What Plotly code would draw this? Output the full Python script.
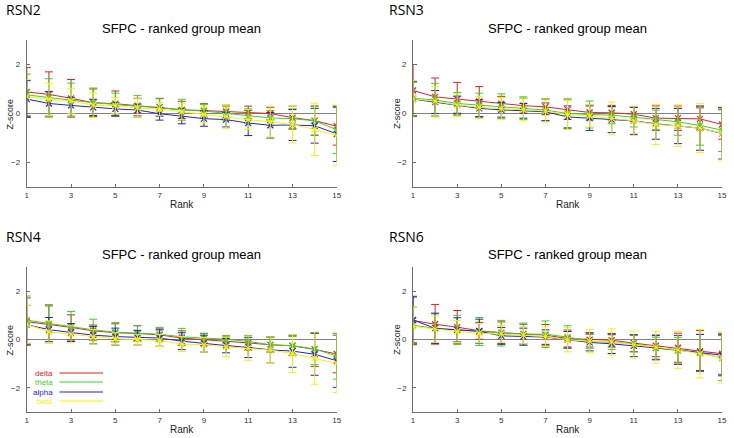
"""
SFPC ranked group mean, four RSN panels (delta/theta/alpha/beta z-scores by rank).
"""

import plotly.graph_objects as go

W, H = 734, 438

ranks = list(range(1, 16))
rank_ticks = [1, 3, 5, 7, 9, 11, 13, 15]
z_ticks = [-2, 0, 2]
bands = ['delta', 'theta', 'alpha', 'beta']
band_colors = {
    'delta': 'rgb(220,35,35)',
    'theta': 'rgb(60,210,40)',
    'alpha': 'rgb(35,35,200)',
    'beta': 'rgb(245,240,20)',
}
panel_names = ['RSN2', 'RSN3', 'RSN4', 'RSN6']
subtitle = 'SFPC - ranked group mean'

# RSN2
rsn2_delta = [0.88, 0.78, 0.62, 0.44, 0.40, 0.32, 0.26, 0.15, 0.12, 0.08, 0.04, 0.00, -0.17, -0.29, -0.52]
rsn2_delta_err = [1.00, 0.92, 0.77, 0.56, 0.52, 0.30, 0.36, 0.35, 0.28, 0.27, 0.26, 0.25, 0.47, 0.60, 0.77]
rsn2_theta = [0.76, 0.65, 0.57, 0.44, 0.37, 0.29, 0.25, 0.15, 0.10, 0.00, -0.11, -0.18, -0.21, -0.30, -0.66]
rsn2_theta_err = [0.85, 0.77, 0.67, 0.60, 0.46, 0.44, 0.35, 0.43, 0.27, 0.28, 0.30, 0.30, 0.40, 0.58, 0.97]
rsn2_alpha = [0.59, 0.41, 0.33, 0.25, 0.19, 0.14, -0.01, -0.11, -0.21, -0.25, -0.39, -0.48, -0.47, -0.50, -0.83]
rsn2_alpha_err = [0.75, 0.49, 0.33, 0.33, 0.26, 0.24, 0.26, 0.31, 0.31, 0.30, 0.51, 0.52, 0.63, 0.71, 1.13]
rsn2_beta = [0.69, 0.58, 0.51, 0.34, 0.32, 0.23, 0.18, 0.07, -0.04, -0.12, -0.25, -0.34, -0.45, -0.65, -0.90]
rsn2_beta_err = [0.70, 0.66, 0.52, 0.50, 0.33, 0.37, 0.27, 0.33, 0.34, 0.48, 0.40, 0.62, 0.75, 1.07, 1.24]

# RSN3
rsn3_delta = [0.94, 0.68, 0.59, 0.49, 0.40, 0.32, 0.27, 0.16, 0.04, 0.03, -0.03, -0.19, -0.19, -0.22, -0.45]
rsn3_delta_err = [1.06, 0.77, 0.68, 0.61, 0.30, 0.30, 0.32, 0.40, 0.30, 0.30, 0.30, 0.50, 0.50, 0.45, 0.60]
rsn3_theta = [0.62, 0.55, 0.41, 0.34, 0.30, 0.22, 0.14, 0.00, -0.04, -0.07, -0.15, -0.26, -0.34, -0.49, -0.68]
rsn3_theta_err = [0.70, 0.68, 0.45, 0.49, 0.50, 0.46, 0.45, 0.60, 0.55, 0.35, 0.40, 0.40, 0.55, 0.80, 0.87]
rsn3_alpha = [0.59, 0.47, 0.36, 0.21, 0.15, 0.11, 0.07, -0.14, -0.19, -0.25, -0.30, -0.42, -0.51, -0.60, -0.81]
rsn3_alpha_err = [0.70, 0.47, 0.35, 0.35, 0.30, 0.30, 0.36, 0.45, 0.50, 0.53, 0.55, 0.63, 0.72, 0.90, 1.05]
rsn3_beta = [0.60, 0.50, 0.35, 0.25, 0.20, 0.15, 0.10, -0.05, -0.10, -0.20, -0.30, -0.45, -0.50, -0.60, -0.80]
rsn3_beta_err = [0.75, 0.60, 0.45, 0.45, 0.45, 0.45, 0.45, 0.60, 0.45, 0.67, 0.60, 0.82, 0.85, 1.00, 1.10]

# RSN4
rsn4_delta = [0.74, 0.63, 0.50, 0.36, 0.28, 0.25, 0.19, 0.06, 0.00, -0.06, -0.14, -0.22, -0.26, -0.41, -0.60]
rsn4_delta_err = [0.98, 0.76, 0.52, 0.24, 0.37, 0.32, 0.25, 0.30, 0.25, 0.20, 0.30, 0.30, 0.40, 0.70, 0.78]
rsn4_theta = [0.80, 0.66, 0.54, 0.40, 0.30, 0.26, 0.22, 0.11, 0.06, 0.01, -0.08, -0.22, -0.26, -0.39, -0.69]
rsn4_theta_err = [1.00, 0.79, 0.62, 0.44, 0.40, 0.31, 0.28, 0.35, 0.20, 0.15, 0.25, 0.30, 0.40, 0.65, 0.95]
rsn4_alpha = [0.61, 0.41, 0.29, 0.18, 0.12, 0.08, 0.06, -0.07, -0.17, -0.25, -0.33, -0.43, -0.48, -0.61, -0.88]
rsn4_alpha_err = [0.80, 0.50, 0.37, 0.36, 0.35, 0.30, 0.34, 0.35, 0.35, 0.30, 0.42, 0.55, 0.67, 0.87, 1.10]
rsn4_beta = [0.63, 0.32, 0.22, 0.11, 0.03, 0.00, -0.04, -0.19, -0.22, -0.30, -0.36, -0.44, -0.58, -0.77, -0.99]
rsn4_beta_err = [0.78, 0.45, 0.35, 0.30, 0.25, 0.20, 0.25, 0.31, 0.30, 0.40, 0.50, 0.55, 0.78, 1.08, 1.20]

# RSN6
rsn6_delta = [0.79, 0.63, 0.51, 0.36, 0.28, 0.23, 0.18, 0.04, -0.01, -0.03, -0.15, -0.26, -0.34, -0.48, -0.59]
rsn6_delta_err = [1.00, 0.82, 0.69, 0.35, 0.45, 0.40, 0.44, 0.35, 0.30, 0.28, 0.35, 0.45, 0.60, 0.85, 0.85]
rsn6_theta = [0.59, 0.46, 0.40, 0.33, 0.26, 0.22, 0.22, 0.10, -0.07, -0.11, -0.17, -0.36, -0.46, -0.54, -0.77]
rsn6_theta_err = [0.75, 0.60, 0.60, 0.58, 0.53, 0.46, 0.55, 0.47, 0.30, 0.30, 0.35, 0.45, 0.55, 0.75, 0.93]
rsn6_alpha = [0.81, 0.46, 0.40, 0.34, 0.15, 0.12, 0.10, -0.01, -0.12, -0.18, -0.26, -0.34, -0.43, -0.54, -0.65]
rsn6_alpha_err = [0.95, 0.63, 0.50, 0.50, 0.35, 0.35, 0.30, 0.34, 0.35, 0.40, 0.45, 0.50, 0.60, 0.75, 0.85]
rsn6_beta = [0.54, 0.43, 0.33, 0.26, 0.23, 0.18, 0.12, -0.01, -0.07, -0.10, -0.21, -0.32, -0.43, -0.59, -0.74]
rsn6_beta_err = [0.80, 0.55, 0.45, 0.40, 0.35, 0.35, 0.40, 0.50, 0.48, 0.54, 0.56, 0.66, 0.76, 1.00, 1.06]

panel_data = {
    'RSN2': [(rsn2_delta, rsn2_delta_err), (rsn2_theta, rsn2_theta_err),
             (rsn2_alpha, rsn2_alpha_err), (rsn2_beta, rsn2_beta_err)],
    'RSN3': [(rsn3_delta, rsn3_delta_err), (rsn3_theta, rsn3_theta_err),
             (rsn3_alpha, rsn3_alpha_err), (rsn3_beta, rsn3_beta_err)],
    'RSN4': [(rsn4_delta, rsn4_delta_err), (rsn4_theta, rsn4_theta_err),
             (rsn4_alpha, rsn4_alpha_err), (rsn4_beta, rsn4_beta_err)],
    'RSN6': [(rsn6_delta, rsn6_delta_err), (rsn6_theta, rsn6_theta_err),
             (rsn6_alpha, rsn6_alpha_err), (rsn6_beta, rsn6_beta_err)],
}


def px(x):
    return x / W


def py(y):
    return 1 - y / H


# pixel boxes of the four axes: (left, right, top, bottom)
boxes = [(25, 338, 40, 187), (415, 727, 40, 187),
         (25, 338, 267, 412), (415, 727, 267, 412)]

AXIS_GRAY = 'rgb(110,110,110)'
FONT = 'Liberation Sans, Arial, sans-serif'

fig = go.Figure()
annotations = []
shapes = []

for i, name in enumerate(panel_names):
    n = '' if i == 0 else str(i + 1)
    left, right, top, bottom = boxes[i]
    for band, (vals, errs) in zip(bands, panel_data[name]):
        c = band_colors[band]
        fig.add_trace(go.Scatter(
            x=ranks, y=vals, mode='lines+markers', name=band, showlegend=False,
            xaxis='x' + n, yaxis='y' + n,
            line=dict(color=c, width=1),
            marker=dict(symbol='x-thin', size=6, line=dict(color=c, width=1.2)),
            error_y=dict(type='data', array=errs, color=c, thickness=1, width=4),
        ))

    axis_common = dict(showgrid=False, zeroline=False, showline=True, linecolor=AXIS_GRAY,
                       linewidth=1, mirror=False, ticks='inside', ticklen=3, tickcolor=AXIS_GRAY,
                       tickfont=dict(family=FONT, size=8, color='#333'))
    fig.layout['xaxis' + n] = dict(domain=[px(left), px(right)], anchor='y' + n,
                                   range=[1, 15], tickvals=rank_ticks, **axis_common)
    fig.layout['yaxis' + n] = dict(domain=[py(bottom), py(top)], anchor='x' + n,
                                   range=[-3, 3], tickvals=z_ticks, ticklabelstandoff=4,
                                   **axis_common)

    # zero reference line
    shapes.append(dict(type='line', xref='x' + n, yref='y' + n, x0=1, x1=15, y0=0, y1=0,
                       line=dict(color='rgb(130,130,130)', width=1.2), layer='below'))

    cx = (left + right) / 2
    annotations += [
        dict(text=name, x=px(left - 23 if i % 2 == 0 else left - 26), y=py(top - 30 if i < 2 else top - 31),
             xref='paper', yref='paper', xanchor='left', yanchor='middle', showarrow=False,
             font=dict(family='Open Sans, sans-serif', size=14, color='black')),
        dict(text=subtitle, x=px(cx), y=py(top - (11 if i < 2 else 13)),
             xref='paper', yref='paper', xanchor='center', yanchor='middle', showarrow=False,
             font=dict(family=FONT, size=13, color='black')),
        dict(text='Rank', x=px(cx), y=py(bottom + 17), xref='paper', yref='paper',
             xanchor='center', yanchor='middle', showarrow=False,
             font=dict(family=FONT, size=10, color='#222')),
        dict(text='Z-score', x=px(left - 17), y=py((top + bottom) / 2), textangle=-90,
             xref='paper', yref='paper', xanchor='center', yanchor='middle', showarrow=False,
             font=dict(family=FONT, size=9, color='#222')),
    ]

# legend in RSN4 panel: label then sample line
legend_y = [373, 382, 392, 401]
for band, ly in zip(bands, legend_y):
    c = band_colors[band]
    annotations.append(dict(text=band, x=px(54), y=py(ly), xref='paper', yref='paper',
                            xanchor='right', yanchor='middle', showarrow=False,
                            font=dict(family=FONT, size=8, color=c)))
    shapes.append(dict(type='line', xref='paper', yref='paper', x0=px(58), x1=px(102),
                       y0=py(ly), y1=py(ly), line=dict(color=c, width=1)))

fig.update_layout(
    width=W, height=H,
    margin=dict(l=0, r=0, t=0, b=0),
    paper_bgcolor='white', plot_bgcolor='white',
    annotations=annotations, shapes=shapes,
    showlegend=False,
)

# drop the browser's default body margin so the figure fills the window exactly
fig.write_html("out.html", config={'displayModeBar': False},
               post_script="document.body.style.margin='0';document.body.style.overflow='hidden';")
